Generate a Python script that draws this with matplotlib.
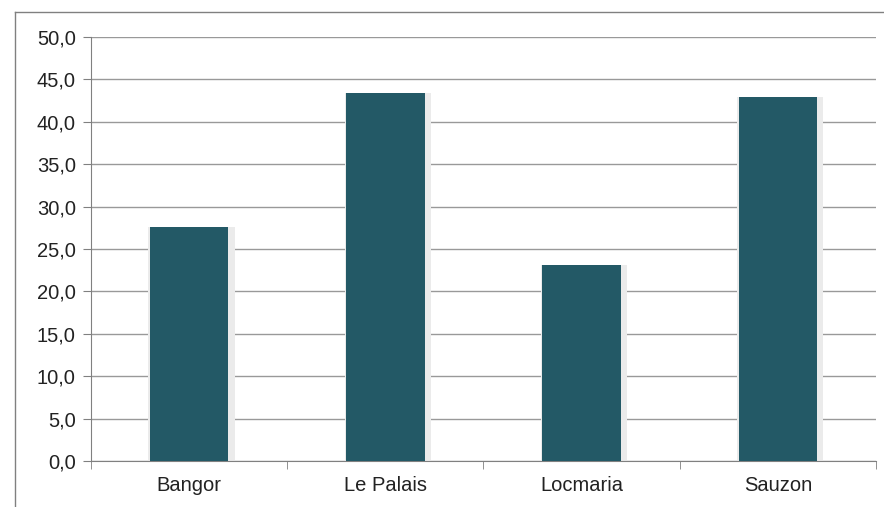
import numpy as np
import matplotlib.pyplot as plt
from matplotlib.lines import Line2D
from matplotlib.ticker import FuncFormatter

plt.rcParams['font.family'] = ['Liberation Sans', 'DejaVu Sans']

communes = ["Bangor", "Le Palais", "Locmaria", "Sauzon"]
valeurs = [27.6, 43.4, 23.1, 42.9]
yticks = np.arange(0, 50.1, 5)

fig = plt.figure(figsize=(8.84, 5.07), dpi=100)
ax = fig.add_axes([91 / 884, 1 - 461 / 507, (876 - 91) / 884, (461 - 37) / 507])

x = np.arange(len(communes))
# soft shadow around each bar
ax.bar(x + 0.012, valeurs, width=0.44, color="#ebebeb", zorder=2)
ax.bar(x, valeurs, width=0.4, color="#235966", zorder=3)

ax.set_xlim(-0.5, len(communes) - 0.5)
ax.set_ylim(0, 50)
ax.set_yticks(yticks)
ax.yaxis.set_major_formatter(FuncFormatter(lambda v, p: f"{v:.1f}".replace(".", ",")))
ax.set_xticks(x)
ax.set_xticklabels(communes)
ax.set_xticks(np.arange(-0.5, len(communes)), minor=True)
ax.tick_params(axis="x", which="major", length=0, labelsize=14.5, pad=11, colors="#222222")
ax.tick_params(axis="x", which="minor", length=6, color="#808080", direction="out")
ax.tick_params(axis="y", length=6, color="#808080", labelsize=14.5, pad=5, labelcolor="#222222")

ax.grid(axis="y", color="#999999", linewidth=1, zorder=0)
for s in ["top", "right"]:
    ax.spines[s].set_visible(False)
for s in ["left", "bottom"]:
    ax.spines[s].set_color("#808080")

# outer chart frame (top and left edges visible)
fig.add_artist(Line2D([15 / 884, 1], [1 - 12 / 507, 1 - 12 / 507], color="#808080", lw=1, transform=fig.transFigure))
fig.add_artist(Line2D([15 / 884, 15 / 884], [0, 1 - 12 / 507], color="#808080", lw=1, transform=fig.transFigure))

fig.savefig("out.png", dpi=100)
